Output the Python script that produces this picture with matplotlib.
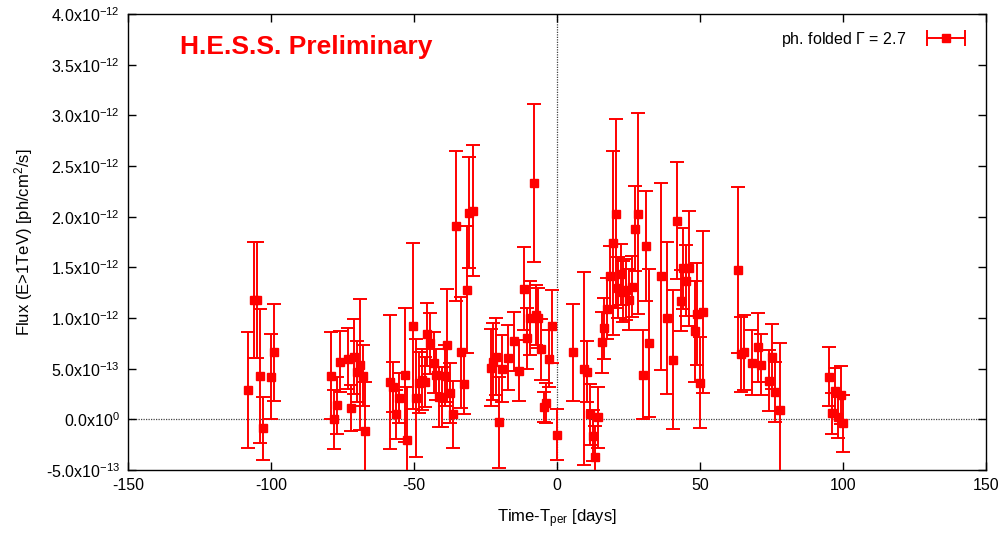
import matplotlib
matplotlib.use("Agg")
import matplotlib.pyplot as plt
from matplotlib.ticker import FixedLocator
from matplotlib.lines import Line2D
from matplotlib.legend_handler import HandlerLine2D, HandlerTuple

plt.rcParams['font.family'] = ['Liberation Sans', 'DejaVu Sans']
plt.rcParams['mathtext.fontset'] = 'custom'
plt.rcParams['mathtext.rm'] = 'Liberation Sans'
plt.rcParams['mathtext.it'] = 'Liberation Sans'

# days relative to periastron
days = [-107.9, -105.9, -104.9, -104.0, -102.9, -99.9, -99.0,
        -79.0, -77.9, -77.0, -75.9, -73.0, -72.0, -71.0, -70.0, -69.0, -68.0, -67.0,
        -58.3, -57.2, -56.2, -55.2, -53.2, -52.3,
        -50.2, -49.2, -48.3, -47.1, -46.2, -45.3, -44.3, -43.1, -42.2, -41.2, -40.2,
        -39.3, -38.4, -37.4, -36.3, -35.4, -33.4, -32.4, -31.5, -30.7, -29.5,
        -23.2, -22.3, -21.4, -20.3, -19.3, -17.2, -15.2, -13.2, -11.6, -10.6, -9.6,
        -8.1, -7.4, -6.5, -5.5, -4.6, -3.7, -2.7, -1.6, -0.1,
        5.6, 9.5, 10.6, 11.6, 12.6, 13.2, 14.5, 15.7, 16.5, 17.4, 18.5, 19.6, 20.6,
        21.4, 22.3, 23.2, 24.1, 25.2, 26.2, 27.3, 28.2, 30.2, 31.2, 32.2, 36.5, 38.4,
        40.5, 42.0, 43.2, 44.1, 45.2, 46.2, 48.1, 49.0, 49.9, 51.1,
        63.4, 64.5, 65.4, 68.2, 70.3, 71.2, 74.2, 75.0, 76.1, 78.0,
        95.2, 96.2, 97.2, 98.2, 99.2, 100.1]

# flux in units of 1e-12 ph/cm2/s
flux = [0.29, 1.18, 1.18, 0.43, -0.09, 0.42, 0.66,
        0.43, 0.00, 0.14, 0.57, 0.60, 0.11, 0.62, 0.47, 0.54, 0.43, -0.12,
        0.37, 0.32, 0.05, 0.21, 0.44, -0.20,
        0.92, 0.21, 0.36, 0.39, 0.37, 0.84, 0.75, 0.56, 0.44, 0.22, 0.22,
        0.43, 0.73, 0.26, 0.05, 1.91, 0.66, 0.35, 1.28, 2.04, 2.06,
        0.51, 0.57, 0.62, -0.03, 0.50, 0.61, 0.77, 0.48, 1.29, 0.80, 1.00,
        2.33, 1.03, 1.00, 0.69, 0.12, 0.16, 0.60, 0.92, -0.15,
        0.66, 0.50, 0.47, 0.05, -0.16, -0.37, 0.02, 0.76, 0.90, 1.09, 1.41, 1.74, 2.03,
        1.30, 1.43, 1.26, 1.28, 1.18, 1.31, 1.88, 2.03, 0.44, 1.71, 0.75, 1.41, 1.00,
        0.59, 1.96, 1.17, 1.49, 1.37, 1.49, 0.87, 1.04, 0.36, 1.06,
        1.47, 0.64, 0.66, 0.56, 0.71, 0.54, 0.38, 0.62, 0.27, 0.09,
        0.42, 0.06, 0.28, 0.02, 0.24, -0.04]

flux_err = [0.57, 0.57, 0.57, 0.66, 0.31, 0.42, 0.48,
            0.43, 0.29, 0.28, 0.30, 0.30, 0.23, 0.37, 0.30, 0.65, 0.30, 0.49,
            0.66, 0.25, 0.24, 0.25, 0.66, 0.52,
            0.82, 0.58, 0.30, 0.30, 0.25, 0.31, 0.30, 0.30, 0.25, 0.30, 0.30,
            0.30, 0.56, 0.30, 0.33, 0.74, 0.55, 0.30, 0.63, 0.55, 0.65,
            0.38, 0.38, 0.38, 0.45, 0.33, 0.32, 0.29, 0.30, 0.41, 0.30, 0.37,
            0.78, 0.30, 0.30, 0.30, 0.15, 0.20, 0.28, 0.36, 0.25,
            0.48, 0.95, 0.30, 0.30, 0.25, 0.30, 0.30, 0.30, 0.30, 0.30, 0.30, 0.91, 0.93,
            0.30, 0.30, 0.30, 0.30, 0.30, 0.30, 0.42, 0.99, 0.44, 0.54, 0.73, 0.92, 0.75,
            0.69, 0.58, 0.30, 0.40, 0.35, 0.57, 0.50, 0.50, 0.45, 0.80,
            0.82, 0.37, 0.37, 0.32, 0.34, 0.30, 0.30, 0.32, 0.30, 0.66,
            0.29, 0.20, 0.23, 0.20, 0.29, 0.28]

scale = 1e-12
flux_abs = [f * scale for f in flux]
err_abs = [e * scale for e in flux_err]

x_ticks = [-150, -100, -50, 0, 50, 100, 150]
y_ticks = [-0.5e-12, 0.0, 0.5e-12, 1.0e-12, 1.5e-12, 2.0e-12, 2.5e-12, 3.0e-12, 3.5e-12, 4.0e-12]
y_tick_labels = [r'-5.0x10$^{-13}$', r'0.0x10$^{0}$', r'5.0x10$^{-13}$', r'1.0x10$^{-12}$',
                 r'1.5x10$^{-12}$', r'2.0x10$^{-12}$', r'2.5x10$^{-12}$', r'3.0x10$^{-12}$',
                 r'3.5x10$^{-12}$', r'4.0x10$^{-12}$']

RED = '#ff0000'

fig = plt.figure(figsize=(10.06, 5.47), dpi=100)
ax = fig.add_axes([128 / 1006, 1 - 470 / 547, (986 - 128) / 1006, (470 - 14) / 547])

ax.axhline(0, color='#444444', lw=0.9, ls=(0, (1, 1)), zorder=1)
ax.axvline(0, color='#444444', lw=0.9, ls=(0, (1, 1)), zorder=1)

ax.errorbar(days, flux_abs, yerr=err_abs, fmt='s', color=RED, mec=RED, mfc=RED, ms=5.5,
            elinewidth=1.4, capsize=5, capthick=1.4, zorder=3)

ax.set_xlim(-150, 150)
ax.set_ylim(-0.5e-12, 4.0e-12)
ax.xaxis.set_major_locator(FixedLocator(x_ticks))
ax.set_xticklabels([str(t) for t in x_ticks])
ax.yaxis.set_major_locator(FixedLocator(y_ticks))
ax.set_yticklabels(y_tick_labels)
ax.tick_params(direction='in', length=6, width=1, top=True, right=True,
               labelsize=11.5, pad=6, colors='black')
for s in ax.spines.values():
    s.set_linewidth(1.0)

ax.set_xlabel(r'Time-T$_{\mathrm{per}}$ [days]', fontsize=12, labelpad=10)
ax.set_ylabel(r'Flux (E>1TeV) [ph/cm$^{2}$/s]', fontsize=12, labelpad=8)

ax.text(0.061, 0.928, 'H.E.S.S. Preliminary', transform=ax.transAxes, color=RED,
        fontsize=19, fontweight='bold', ha='left', va='center')

# legend sample: horizontal bar with caps and a square marker
h_bar = Line2D([], [], color=RED, lw=1.4, marker='|', ms=11, mew=1.4)
h_sq = Line2D([], [], color=RED, ls='none', marker='s', ms=5.5)
ax.legend([(h_bar, h_sq)], [r'ph. folded $\Gamma$ = 2.7'], loc='upper right',
          frameon=False, markerfirst=False, fontsize=11.5,
          handlelength=3.0, borderaxespad=0.6, handletextpad=1.0,
          handler_map={h_bar: HandlerLine2D(numpoints=2),
                       h_sq: HandlerLine2D(numpoints=1),
                       tuple: HandlerTuple(ndivide=1, pad=0)})

fig.savefig('out.png', dpi=100)
